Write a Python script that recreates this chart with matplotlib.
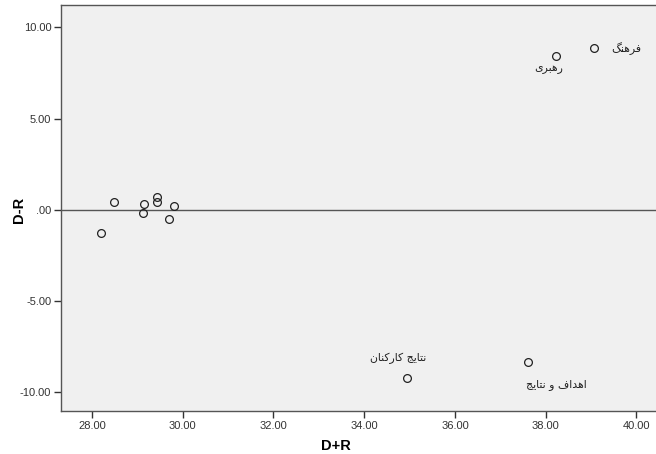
import matplotlib
matplotlib.use("Agg")
import matplotlib.pyplot as plt

# ---- data ----
x_vals = [39.07, 38.23, 34.94, 37.62, 28.49, 29.14, 29.12, 29.43, 29.43, 29.81, 29.69, 28.21]
y_vals = [8.84, 8.45, -9.21, -8.35, 0.44, 0.30, -0.18, 0.71, 0.42, 0.22, -0.51, -1.26]
point_labels = ["فرهنگ", "رهبری", "نتایج کارکنان", "اهداف و نتایج", "", "", "", "", "", "", "", ""]
label_offsets = [(17, 0, "left"), (-7, -13, "center"), (-9, 20, "center"), (28, -22, "center")]

x_ticks = [28, 30, 32, 34, 36, 38, 40]
x_tick_labels = ["28.00", "30.00", "32.00", "34.00", "36.00", "38.00", "40.00"]
y_ticks = [10, 5, 0, -5, -10]
y_tick_labels = ["10.00", "5.00", ".00", "-5.00", "-10.00"]
x_title = "D+R"
y_title = "D-R"

# ---- minimal Arabic/Persian shaping (matplotlib has no text shaping) ----
FORMS = {  # isolated, final, initial, medial
    "ا": ("\uFE8D", "\uFE8E", None, None),
    "ب": ("\uFE8F", "\uFE90", "\uFE91", "\uFE92"),
    "ت": ("\uFE95", "\uFE96", "\uFE97", "\uFE98"),
    "ج": ("\uFE9D", "\uFE9E", "\uFE9F", "\uFEA0"),
    "د": ("\uFEA9", "\uFEAA", None, None),
    "ر": ("\uFEAD", "\uFEAE", None, None),
    "ف": ("\uFED1", "\uFED2", "\uFED3", "\uFED4"),
    "ن": ("\uFEE5", "\uFEE6", "\uFEE7", "\uFEE8"),
    "ه": ("\uFEE9", "\uFEEA", "\uFEEB", "\uFEEC"),
    "و": ("\uFEED", "\uFEEE", None, None),
    "ی": ("\uFBFC", "\uFBFD", "\uFBFE", "\uFBFF"),
    "ک": ("\uFB8E", "\uFB8F", "\uFB90", "\uFB91"),
    "گ": ("\uFB92", "\uFB93", "\uFB94", "\uFB95"),
}


def shape(text):
    out = []
    n = len(text)
    for i, ch in enumerate(text):
        if ch not in FORMS:
            out.append(ch)
            continue
        f = FORMS[ch]
        dual = f[2] is not None
        prev_j = i > 0 and text[i - 1] in FORMS and FORMS[text[i - 1]][2] is not None
        next_j = dual and i < n - 1 and text[i + 1] in FORMS
        if prev_j and next_j:
            g = f[3]
        elif prev_j:
            g = f[1]
        elif next_j:
            g = f[2]
        else:
            g = f[0]
        out.append(g)
    return "".join(out)[::-1]


plt.rcParams["font.family"] = ["Liberation Sans", "DejaVu Sans"]

fig = plt.figure(figsize=(6.56, 4.54), dpi=100)
ax = fig.add_axes([61 / 656, 1 - 411 / 454, (656 - 61) / 656, (411 - 5) / 454])
ax.set_facecolor("#f0f0f0")

ax.set_xlim(27.32, 40.43)
ax.set_ylim(-11.02, 11.22)

ax.axhline(0, color="#555555", lw=1.0, zorder=1)

ax.plot(x_vals, y_vals, linestyle="none", marker="o", markersize=5.6,
        markerfacecolor="none", markeredgecolor="#222222", markeredgewidth=0.9, zorder=3)

for (xv, yv, lab), off in zip(zip(x_vals, y_vals, point_labels), label_offsets):
    if lab:
        ax.annotate(shape(lab), (xv, yv), xytext=(off[0], off[1]), textcoords="offset pixels",
                    ha=off[2], va="center", fontsize=7.8, family=["DejaVu Sans"], color="#222222")

ax.set_xticks(x_ticks)
ax.set_xticklabels(x_tick_labels)
ax.set_yticks(y_ticks)
ax.set_yticklabels(y_tick_labels)
ax.tick_params(direction="out", length=5, width=1, colors="#333333", labelsize=8, pad=2)
ax.tick_params(labelcolor="#333333")

for s in ["top", "left", "bottom"]:
    ax.spines[s].set_color("#555555")
    ax.spines[s].set_linewidth(1.0)
ax.spines["right"].set_visible(False)

ax.set_xlabel(x_title, fontsize=10.5, fontweight="bold")
ax.set_ylabel(y_title, fontsize=10.5, fontweight="bold")
ax.xaxis.set_label_coords((336 - 61) / 595, (411 - 446) / 406)
ax.yaxis.set_label_coords((19 - 61) / 595, (411 - 210) / 406)
ax.xaxis.label.set_va("center")
ax.yaxis.label.set_va("center")

fig.savefig("out.png", dpi=100, facecolor="white")
